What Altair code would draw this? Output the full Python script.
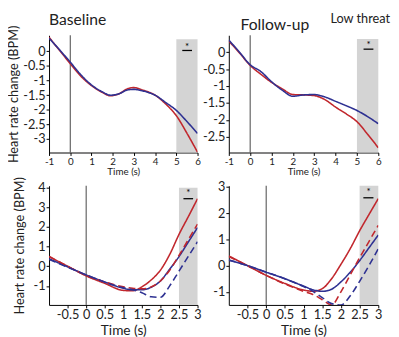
import altair as alt
import pandas as pd

RED = "#c1272d"
BLUE = "#2e3192"
BAND = "#d4d4d4"
FONT = "Lato"
TXT = "#222222"

# ---------------- data ----------------
# Top-left: Baseline (long window)
bl_x = [-1, -0.5, 0, 0.5, 1, 1.5, 1.9, 2.3, 2.7, 3, 3.4, 4, 4.5, 5, 5.5, 6]
bl_high = [0.48, 0.03, -0.42, -0.85, -1.17, -1.40, -1.52, -1.45, -1.28, -1.24, -1.32, -1.50, -1.80, -2.20, -2.80, -3.45]
bl_low = [0.45, 0.05, -0.37, -0.80, -1.15, -1.38, -1.50, -1.45, -1.32, -1.30, -1.35, -1.50, -1.75, -2.02, -2.40, -2.81]

# Top-right: Follow-up (long window)
fu_x = [-1, -0.5, 0, 0.5, 1, 1.5, 2, 2.5, 3, 3.5, 4, 4.5, 5, 5.5, 6]
fu_high = [0.33, -0.02, -0.39, -0.65, -0.89, -1.08, -1.25, -1.26, -1.28, -1.40, -1.62, -1.82, -2.05, -2.42, -2.82]
fu_low = [0.36, 0.00, -0.37, -0.57, -0.87, -1.12, -1.30, -1.26, -1.25, -1.32, -1.45, -1.58, -1.72, -1.90, -2.11]

# Bottom panels (short window)
sx = [-1, -0.5, 0, 0.5, 1, 1.25, 1.5, 1.75, 2, 2.25, 2.5, 2.75, 3]
bb_high_solid = [0.49, 0.00, -0.49, -0.87, -1.23, -1.25, -1.05, -0.70, -0.20, 0.60, 1.62, 2.52, 3.44]
bb_low_solid = [0.38, -0.03, -0.44, -0.80, -1.12, -1.20, -1.20, -1.07, -0.75, -0.15, 0.49, 1.23, 1.97]
bb_high_dash = [0.50, 0.00, -0.47, -0.80, -1.05, -1.12, -1.15, -1.05, -0.75, -0.20, 0.55, 1.35, 2.15]
bb_low_dash = [0.35, -0.05, -0.44, -0.80, -1.10, -1.20, -1.35, -1.55, -1.58, -1.00, -0.25, 0.50, 1.25]

bf_high_solid = [0.37, 0.00, -0.37, -0.68, -0.93, -0.98, -0.88, -0.50, 0.05, 0.65, 1.33, 1.95, 2.56]
bf_low_solid = [0.21, 0.00, -0.25, -0.50, -0.78, -0.92, -0.98, -0.90, -0.62, -0.25, 0.19, 0.68, 1.17]
bf_high_dash = [0.35, 0.00, -0.37, -0.70, -0.98, -1.10, -1.30, -1.50, -1.00, -0.35, 0.30, 0.92, 1.54]
bf_low_dash = [0.22, 0.00, -0.25, -0.50, -0.80, -0.98, -1.22, -1.45, -1.50, -1.15, -0.60, 0.00, 0.65]

long_xticks = [-1, 0, 1, 2, 3, 4, 5, 6]
short_xticks = [-0.5, 0, 0.5, 1, 1.5, 2, 2.5, 3]
tl_yticks = [0, -0.5, -1, -1.5, -2, -2.5, -3]
tr_yticks = [0, -0.5, -1, -1.5, -2, -2.5]
bl_yticks = [-1, 0, 1, 2, 3, 4]
br_yticks = [-1, 0, 1, 2, 3]

# significance band [start, end, top] and star [x, y, line x0, line x1, line y]
tl_band = [5, 6, 0.41]
tr_band = [5, 6, 0.39]
bl_band = [2.5, 3, 4.0]
br_band = [2.5, 3, 3.05]
tl_star = [5.51, 0.22, 5.28, 5.74, 0.03]
tr_star = [5.54, 0.27, 5.31, 5.77, 0.09]
bl_star = [2.75, 3.85, 2.62, 2.88, 3.44]
br_star = [2.74, 2.90, 2.60, 2.87, 2.59]


def lines_df(x, series):
    rows = []
    for name, threat, style, vals in series:
        for t, v in zip(x, vals):
            rows.append({"t": t, "v": v, "series": name, "threat": threat, "style": style})
    return pd.DataFrame(rows)


def label(text, px, py, size):
    return alt.Chart(pd.DataFrame({"lab": [text]})).mark_text(
        fontSize=size, font=FONT, color=TXT, align="left", baseline="alphabetic").encode(
        x=alt.value(px), y=alt.value(py), text="lab:N")


def panel(df, xdom, ydom, xticks, yticks, band, star, w, h, xlab_size, xtitle_size,
          ytitle=None, ytitle_pad=2, xtitle_pad=1, extras=()):
    xs = alt.Scale(domain=xdom, nice=False, zero=False)
    ys = alt.Scale(domain=ydom, nice=False, zero=False)
    xaxis = alt.Axis(values=xticks, title="Time (s)", grid=False, domainColor="black",
                     tickColor="black", tickSize=3, labelExpr="datum.value + ''",
                     labelFontSize=xlab_size, titleFontSize=xtitle_size, labelFont=FONT,
                     titleFont=FONT, titleFontWeight="normal", labelColor=TXT, titleColor=TXT,
                     labelPadding=1, titlePadding=xtitle_pad, labelOverlap=False, labelFlush=False)
    yargs = dict(values=yticks, grid=False, domainColor="black", tickColor="black", tickSize=3,
                 labelExpr="datum.value + ''", labelFontSize=13, labelFont=FONT, labelColor=TXT,
                 labelPadding=1, labelOverlap=False, labelFlush=False)
    if ytitle:
        yaxis = alt.Axis(title=ytitle, titleFontSize=13, titleFont=FONT, titleFontWeight="normal",
                         titleColor=TXT, titlePadding=ytitle_pad, **yargs)
    else:
        yaxis = alt.Axis(title=None, **yargs)

    X = lambda f: alt.X(f, scale=xs, axis=xaxis)
    Y = lambda f: alt.Y(f, scale=ys, axis=yaxis)

    band_df = pd.DataFrame({"x0": [band[0]], "x1": [band[1]], "top": [band[2]], "bot": [ydom[0]]})
    band_l = alt.Chart(band_df).mark_rect(color=BAND).encode(
        x=X("x0:Q"), x2="x1:Q", y=Y("top:Q"), y2="bot:Q")
    zero_l = alt.Chart(pd.DataFrame({"t": [0]})).mark_rule(color="#444444", strokeWidth=1).encode(
        x=X("t:Q"))
    line_l = alt.Chart(df).mark_line(strokeWidth=1.6, clip=True, interpolate="monotone").encode(
        x=X("t:Q"),
        y=Y("v:Q"),
        color=alt.Color("threat:N", scale=alt.Scale(domain=["High", "Low"], range=[RED, BLUE]), legend=None),
        strokeDash=alt.StrokeDash("style:N", scale=alt.Scale(domain=["solid", "dashed"], range=[[1, 0], [7, 4]]), legend=None),
        detail="series:N")
    star_df = pd.DataFrame({"sx": [star[0]], "sy": [star[1]], "lx0": [star[2]], "lx1": [star[3]], "ly": [star[4]], "s": ["*"]})
    star_t = alt.Chart(star_df).mark_text(fontSize=10, font=FONT, color="black", baseline="middle", dy=2).encode(
        x=X("sx:Q"), y=Y("sy:Q"), text="s:N")
    star_r = alt.Chart(star_df).mark_rule(color="black", strokeWidth=1.3).encode(
        x=X("lx0:Q"), x2="lx1:Q", y=Y("ly:Q"))
    layers = [band_l, zero_l, line_l, star_r, star_t] + list(extras)
    return alt.layer(*layers).properties(width=w, height=h)


tl_df = lines_df(bl_x, [("h", "High", "solid", bl_high), ("l", "Low", "solid", bl_low)])
tr_df = lines_df(fu_x, [("h", "High", "solid", fu_high), ("l", "Low", "solid", fu_low)])
bl_df = lines_df(sx, [("hs", "High", "solid", bb_high_solid), ("ls", "Low", "solid", bb_low_solid),
                      ("hd", "High", "dashed", bb_high_dash), ("ld", "Low", "dashed", bb_low_dash)])
br_df = lines_df(sx, [("hs", "High", "solid", bf_high_solid), ("ls", "Low", "solid", bf_low_solid),
                      ("hd", "High", "dashed", bf_high_dash), ("ld", "Low", "dashed", bf_low_dash)])

YT = "Heart rate change (BPM)"

tl = panel(tl_df, [-1, 6], [-3.46, 0.55], long_xticks, tl_yticks, tl_band, tl_star, 152, 120, 10, 10,
           ytitle=YT, extras=[label("Baseline", 0, -11, 16)])
tr = panel(tr_df, [-1, 6], [-2.96, 0.5], long_xticks, tr_yticks, tr_band, tr_star, 153, 120, 10, 10,
           extras=[label("Follow-up", 12, -5, 16), label("Low threat", 104, -13, 13)])
bl = panel(bl_df, [-1, 3], [-1.97, 4.1], short_xticks, bl_yticks, bl_band, bl_star, 152, 122, 13, 14,
           ytitle=YT, ytitle_pad=7, xtitle_pad=2)
br = panel(br_df, [-1, 3], [-1.5, 3.05], short_xticks, br_yticks, br_band, br_star, 153, 122, 13, 14,
           xtitle_pad=2)

chart = (alt.concat(tl, tr, bl, br, columns=2, spacing={"row": 34, "column": 32},
                    bounds="flush", align="each")
         .properties(padding=0)
         .configure_view(stroke=None)
         .configure_axis(labelOverlap=False))

chart.save("out.html", embed_options={"renderer": "svg", "actions": False})
